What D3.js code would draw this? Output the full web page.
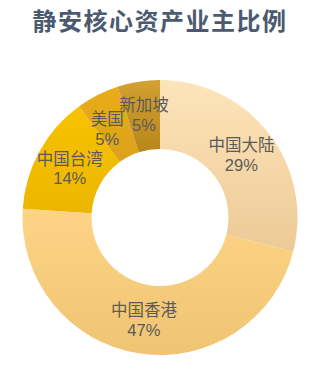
<!DOCTYPE html>
<html>
<head>
<meta charset="utf-8">
<script src="https://cdn.jsdelivr.net/npm/d3@7"></script>
<style>
  html, body { margin: 0; padding: 0; background: #fff; }
  svg { display: block; }
</style>
</head>
<body>
<div id="chart"></div>
<script>
const title = "静安核心资产业主比例";
const regions = ["中国大陆", "中国香港", "中国台湾", "美国", "新加坡"];
const shares = [29, 47, 14, 5, 5];
const topColors = ["#fee4bb", "#fdd486", "#f8c200", "#e9ad19", "#d4a032"];
const bottomColors = ["#ecca96", "#efc473", "#ecb600", "#dba11a", "#b8861a"];

const width = 316;
const height = 366;
const cx = 160;
const cy = 217.5;
const outerR = 137.5;
const innerR = 68.5;

const svg = d3.select("#chart")
  .append("svg")
  .attr("width", width)
  .attr("height", height);

//gradients, one per slice
const defs = svg.append("defs");
regions.forEach((r, i) => {
  const g = defs.append("linearGradient")
    .attr("id", "grad" + i)
    .attr("x1", 0).attr("y1", 0)
    .attr("x2", 0).attr("y2", 1);
  g.append("stop").attr("offset", "0%").attr("stop-color", topColors[i]);
  g.append("stop").attr("offset", "100%").attr("stop-color", bottomColors[i]);
});

//title
svg.append("text")
  .attr("x", cx)
  .attr("y", 30)
  .attr("text-anchor", "middle")
  .attr("font-family", "'Noto Sans CJK SC', sans-serif")
  .attr("font-weight", "bold")
  .attr("font-size", 24)
  .attr("letter-spacing", "1.5px")
  .attr("fill", "#4b5a70")
  .text(title);

const tabular = regions.map((d, i) => ({ name: d, value: shares[i], idx: i }));

const pie = d3.pie()
  .value((d) => d.value)
  .sort(null);

const arc = d3.arc()
  .innerRadius(innerR)
  .outerRadius(outerR);

const arcs = pie(tabular);

const container = svg.append("g")
  .attr("transform", `translate(${cx},${cy})`);

//draw slices
container.selectAll("path.slice")
  .data(arcs)
  .enter()
  .append("path")
  .attr("class", "slice")
  .attr("d", arc)
  .attr("fill", (d) => `url(#grad${d.data.idx})`);

//small labels get pushed apart so they don't collide
function labelPos(d) {
  const [x, y] = arc.centroid(d);
  if (d.data.name === "美国") return [x - 6, y + 3];
  if (d.data.name === "新加坡") return [x, y - 1];
  return [x, y];
}

//draw labels
const labels = container.selectAll("text.label")
  .data(arcs)
  .enter()
  .append("text")
  .attr("class", "label")
  .attr("transform", (d) => `translate(${labelPos(d)})`)
  .attr("text-anchor", "middle")
  .attr("font-family", "'Liberation Sans', 'Noto Sans CJK SC', sans-serif")
  .attr("font-size", 16.5)
  .attr("fill", "#5a5a5a");

labels.append("tspan")
  .attr("x", 0)
  .attr("dy", "-0.2em")
  .text((d) => d.data.name);

labels.append("tspan")
  .attr("x", 0)
  .attr("dy", "1.2em")
  .text((d) => d.data.value + "%");
</script>
</body>
</html>
